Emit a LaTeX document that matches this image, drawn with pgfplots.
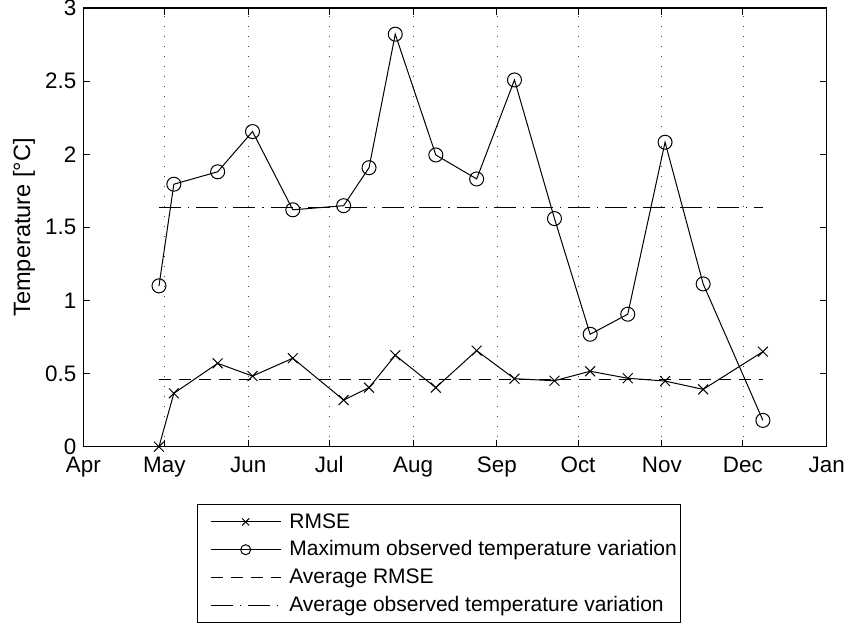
\documentclass[border=0pt]{standalone}
\usepackage{fontspec}
\setmainfont{Liberation Sans}
\usepackage{pgfplots}
\pgfplotsset{compat=1.18}

\begin{document}
\begin{tikzpicture}
\useasboundingbox (-41.65pt,-89.15pt) rectangle (380.35pt,223.35pt);
\begin{axis}[
  at={(0,0)}, anchor=south west,
  scale only axis,
  width=371.7pt, height=219.35pt,
  xmin=0, xmax=275, ymin=0, ymax=3,
  axis line style={line width=0.7pt},
  every tick/.style={black, line width=0.5pt},
  tick align=inside,
  major tick length=3.5pt,
  xtick={0,30,61,91,122,153,183,214,244,275},
  xticklabels={Apr,May,Jun,Jul,Aug,Sep,Oct,Nov,Dec,Jan},
  ytick={0,0.5,1,1.5,2,2.5,3},
  yticklabels={0,0.5,1,1.5,2,2.5,3},
  /pgf/number format/assume math mode=true,
  tick label style={font=\fontsize{11.2}{13}\selectfont},
  xticklabel style={text height=8pt, text depth=2.3pt, yshift=-1.3pt},
  xmajorgrids=true,
  grid style={black!75, line width=0.4pt, dash pattern=on 0.5pt off 4.5pt},
  ylabel={Temperature [°C]},
  ylabel style={font=\fontsize{11.8}{14}\selectfont, at={(axis description cs:-0.0798,0.5)}, anchor=center},
  legend cell align=left,
  legend image code/.code={
    \path (-5pt,0pt);
    \draw[mark repeat=2,mark phase=2,#1,mark size=2.5pt]
      plot coordinates {(0pt,0pt) (17.5pt,0pt) (35pt,0pt)};
  },
  legend style={
    at={(0.1525,-0.1313)}, anchor=north west,
    draw=black, line width=0.5pt,
    font=\fontsize{10.5}{12.5}\selectfont,
    inner xsep=1.5pt, inner ysep=2.6pt,
    row sep=2pt, column sep=3.6pt,
    nodes={inner sep=0.5pt, text height=8.5pt, text depth=2.4pt},
  },
]
% RMSE of the model for each observation period
\addplot[black, line width=0.5pt, mark=x, mark size=3.5pt, mark options={solid}] coordinates {
  (28,0) (33.5,0.365) (49.7,0.570) (62.6,0.483) (77.5,0.605) (96.3,0.319)
  (105.7,0.404) (115.4,0.625) (130.4,0.404) (145.5,0.657) (159.5,0.465)
  (174.3,0.451) (187.5,0.516) (201.4,0.468) (215.2,0.449) (229.3,0.392)
  (251.4,0.650)
};
\addlegendentry{RMSE}
% Largest observed temperature variation for each period
\addplot[black, line width=0.5pt, mark=o, mark size=3.5pt, mark options={solid}] coordinates {
  (28,1.100) (33.5,1.795) (49.7,1.880) (62.6,2.155) (77.5,1.620) (96.3,1.648)
  (105.7,1.908) (115.4,2.821) (130.4,1.995) (145.5,1.831) (159.5,2.508)
  (174.3,1.560) (187.5,0.769) (201.4,0.906) (215.2,2.082) (229.3,1.113)
  (251.4,0.180)
};
\addlegendentry{Maximum observed temperature variation}
% Means over the whole season
\addplot[black, line width=0.5pt, dash pattern=on 6pt off 4pt] coordinates {
  (28,0.462) (251.4,0.462)
};
\addlegendentry{Average RMSE}
\addplot[black, line width=0.5pt, dash pattern=on 11pt off 3.5pt on 0.6pt off 3.5pt] coordinates {
  (28,1.638) (251.4,1.638)
};
\addlegendentry{Average observed temperature variation}
\end{axis}
\end{tikzpicture}
\end{document}
